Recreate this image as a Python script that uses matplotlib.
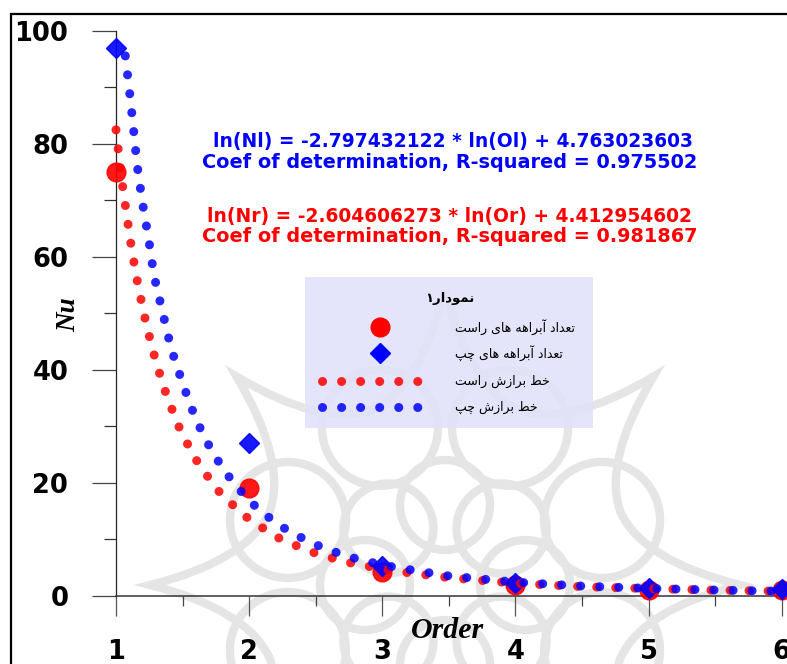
import numpy as np
import matplotlib
matplotlib.use("Agg")
import matplotlib.pyplot as plt
from matplotlib.patches import Rectangle, Circle, PathPatch
from matplotlib.path import Path

W, H = 787, 664

# data
order = [1, 2, 3, 4, 5, 6]
nu_right = [75, 19, 4.2, 1.9, 1.0, 1.0]
nu_left = [97, 27, 5.3, 2.2, 1.4, 1.1]

fit_right_x = [1.00, 1.04, 1.08, 1.12, 1.17, 1.23, 1.30, 1.385, 1.49, 1.625, 1.795,
               2.006, 2.245, 2.51, 2.78, 3.1, 3.5, 4.0, 4.5, 5.0, 5.5, 6.04]
fit_right_y = [82.5, 74.1, 67.5, 61.0, 54.4, 47.8, 41.4, 35.1, 28.9, 23.1, 17.8,
               13.4, 9.9, 7.4, 5.7, 4.35, 3.2, 2.2, 1.6, 1.25, 0.98, 0.77]
fit_left_x = [1.07, 1.10, 1.13, 1.158, 1.197, 1.245, 1.285, 1.35, 1.415, 1.503, 1.60,
              1.728, 1.886, 2.08, 2.31, 2.57, 2.835, 3.1, 3.5, 4.0, 4.5, 5.0, 5.5, 6.04]
fit_left_y = [95.6, 89.6, 83.0, 76.4, 69.8, 63.2, 56.7, 50.2, 43.7, 37.4, 31.2,
              25.2, 19.8, 15.0, 11.2, 8.3, 6.3, 5.0, 3.5, 2.4, 1.7, 1.3, 1.0, 0.77]

eq_left = ["ln(Nl) = -2.797432122 * ln(Ol) + 4.763023603",
           "Coef of determination, R-squared = 0.975502"]
eq_right = ["ln(Nr) = -2.604606273 * ln(Or) + 4.412954602",
            "Coef of determination, R-squared = 0.981867"]

legend_title = "نمودار۱"
legend_labels = ["تعداد آبراهه های راست", "تعداد آبراهه های چپ",
                 "خط برازش راست", "خط برازش چپ"]

# minimal arabic shaping (matplotlib has no complex text layout)
FORMS = {
    "ا": ("\uFE8D", "\uFE8E", None, None),
    "آ": ("\uFE81", "\uFE82", None, None),
    "ب": ("\uFE8F", "\uFE90", "\uFE91", "\uFE92"),
    "پ": ("\uFB56", "\uFB57", "\uFB58", "\uFB59"),
    "ت": ("\uFE95", "\uFE96", "\uFE97", "\uFE98"),
    "چ": ("\uFB7A", "\uFB7B", "\uFB7C", "\uFB7D"),
    "خ": ("\uFEA5", "\uFEA6", "\uFEA7", "\uFEA8"),
    "د": ("\uFEA9", "\uFEAA", None, None),
    "ر": ("\uFEAD", "\uFEAE", None, None),
    "ز": ("\uFEAF", "\uFEB0", None, None),
    "س": ("\uFEB1", "\uFEB2", "\uFEB3", "\uFEB4"),
    "ش": ("\uFEB5", "\uFEB6", "\uFEB7", "\uFEB8"),
    "ط": ("\uFEC1", "\uFEC2", "\uFEC3", "\uFEC4"),
    "ع": ("\uFEC9", "\uFECA", "\uFECB", "\uFECC"),
    "م": ("\uFEE1", "\uFEE2", "\uFEE3", "\uFEE4"),
    "ن": ("\uFEE5", "\uFEE6", "\uFEE7", "\uFEE8"),
    "ه": ("\uFEE9", "\uFEEA", "\uFEEB", "\uFEEC"),
    "و": ("\uFEED", "\uFEEE", None, None),
    "ی": ("\uFBFC", "\uFBFD", "\uFBFE", "\uFBFF"),
}


def shape(s):
    out = []
    for i, ch in enumerate(s):
        f = FORMS.get(ch)
        if f is None:
            out.append(ch)
            continue
        prev = s[i - 1] if i > 0 else ""
        nxt = s[i + 1] if i + 1 < len(s) else ""
        jp = prev in FORMS and FORMS[prev][2] is not None
        jn = f[2] is not None and nxt in FORMS
        out.append(f[3] if (jp and jn) else f[1] if jp else f[2] if jn else f[0])
    return "".join(reversed(out))


def fx(x):
    return x / W


def fy(y):
    return 1 - y / H


fig = plt.figure(figsize=(W / 100, H / 100), dpi=100)

# faint watermark behind everything (pixel coordinates)
bg = fig.add_axes([0, 0, 1, 1], zorder=0)
bg.set_xlim(0, W)
bg.set_ylim(H, 0)
bg.axis("off")
wm = dict(fill=False, ec="#e5e5e5", lw=6)
cx, cy = 445, 585
for k in range(8):
    a = np.deg2rad(k * 45)
    bg.add_patch(Circle((cx + 80 * np.cos(a), cy + 80 * np.sin(a)), 45, **wm))
    b = np.deg2rad(k * 45 + 22.5)
    bg.add_patch(Circle((cx + 170 * np.cos(b), cy + 170 * np.sin(b)), 58, **wm))
verts, codes = [], []
for k in range(8):
    a = np.deg2rad(k * 45 - 90)
    a2 = np.deg2rad(k * 45 - 90 + 22.5)
    a3 = np.deg2rad(k * 45 - 90 + 45)
    tip = (cx + 295 * np.cos(a), cy + 295 * np.sin(a))
    val = (cx + 190 * np.cos(a2), cy + 190 * np.sin(a2))
    ctl1 = (cx + 200 * np.cos(a + 0.12), cy + 200 * np.sin(a + 0.12))
    ctl2 = (cx + 200 * np.cos(a3 - 0.12), cy + 200 * np.sin(a3 - 0.12))
    tip2 = (cx + 295 * np.cos(a3), cy + 295 * np.sin(a3))
    if k == 0:
        verts.append(tip)
        codes.append(Path.MOVETO)
    verts += [ctl1, val, ctl2, tip2]
    codes += [Path.CURVE3, Path.CURVE3, Path.CURVE3, Path.CURVE3]
bg.add_patch(PathPatch(Path(verts, codes), **wm))

# outer frame of the figure
fig.patches.append(Rectangle((fx(11), fy(670)), fx(800) - fx(11), fy(14) - fy(670),
                             transform=fig.transFigure, fill=False, ec="black", lw=1.6))

ax = fig.add_axes([fx(116), fy(595.7), fx(W) - fx(116), fy(31) - fy(595.7)], zorder=1)
ax.set_facecolor("none")
ax.set_xlim(1, 6.04)
ax.set_ylim(0, 100)
for s in ["top", "right"]:
    ax.spines[s].set_visible(False)
ax.spines["left"].set_color("#222222")
ax.spines["bottom"].set_color("#333333")
ax.spines["left"].set_linewidth(0.9)
ax.spines["bottom"].set_linewidth(1.1)

ax.set_xticks(order)
ax.set_xticks([1.5, 2.5, 3.5, 4.5, 5.5], minor=True)
ax.set_yticks([0, 20, 40, 60, 80, 100])
ax.set_yticks([10, 30, 50, 70, 90], minor=True)
ax.tick_params(axis="x", which="major", length=14.4, width=0.9, color="#555555", pad=17)
ax.tick_params(axis="x", which="minor", length=7.2, width=0.9, color="#444444")
ax.tick_params(axis="y", which="major", length=17.3, width=0.9, color="#444444", pad=17)
ax.tick_params(axis="y", which="minor", length=8.6, width=0.9, color="#333333")
for lab in ax.get_xticklabels() + ax.get_yticklabels():
    lab.set_fontfamily("DejaVu Sans")
    lab.set_fontweight("bold")
    lab.set_fontsize(18.5)

ax.plot(order, nu_right, "o", ms=13.5, color="red", alpha=0.9, clip_on=False, zorder=3)
ax.plot(order, nu_left, "D", ms=9.7, color="blue", alpha=0.9, clip_on=False, zorder=4)
dots = (0, (0.01, 2.1))
ax.plot(fit_right_x, fit_right_y, color="red", alpha=0.85, lw=6.5, ls=dots,
        dash_capstyle="round", clip_on=False, zorder=5)
ax.plot(fit_left_x, fit_left_y, color="blue", alpha=0.85, lw=6.5, ls=dots,
        dash_capstyle="round", zorder=6)

# equations
eq_font = dict(fontfamily="DejaVu Sans", fontweight="bold", ha="center", va="center")
fig.text(fx(453), fy(141), eq_left[0], color="blue", fontsize=13.4, **eq_font)
fig.text(fx(450), fy(163), eq_left[1], color="blue", fontsize=13.9, **eq_font)
fig.text(fx(450), fy(216), eq_right[0], color="red", fontsize=13.4, **eq_font)
fig.text(fx(450), fy(237), eq_right[1], color="red", fontsize=13.9, **eq_font)

# axis titles
lab_font = dict(fontfamily="Liberation Serif", fontweight="bold", style="italic")
fig.text(fx(69), fy(315), "Nu", rotation=90, fontsize=19.5, ha="center", va="center", **lab_font)
fig.text(fx(447), fy(631), "Order", fontsize=21.5, ha="center", va="center", **lab_font)

# legend box drawn in pixel space
lx0, ly0, lx1, ly1 = 305, 277, 593, 428
lax = fig.add_axes([fx(lx0), fy(ly1), fx(lx1) - fx(lx0), fy(ly0) - fy(ly1)], zorder=2)
lax.set_xlim(lx0, lx1)
lax.set_ylim(ly1, ly0)
lax.axis("off")
lax.add_patch(Rectangle((lx0, ly0), lx1 - lx0, ly1 - ly0, fc="#e2e2fa", ec="none", alpha=0.9))
lax.text(450, 298, shape(legend_title), fontsize=9.5, fontweight="bold",
         fontfamily="DejaVu Sans", ha="center", va="center")
lax.plot([380], [327], "o", ms=13.5, color="red")
lax.plot([380], [353], "D", ms=9.7, color="blue")
lax.plot([322, 436], [381, 381], color="red", alpha=0.85, lw=6.5, ls=dots, dash_capstyle="round")
lax.plot([322, 436], [407, 407], color="blue", alpha=0.85, lw=6.5, ls=dots, dash_capstyle="round")
for yy, lab in zip([327, 353, 381, 407], legend_labels):
    lax.text(455, yy, shape(lab), fontsize=9, fontfamily="DejaVu Sans",
             ha="left", va="center")

fig.savefig("out.png", dpi=100)
